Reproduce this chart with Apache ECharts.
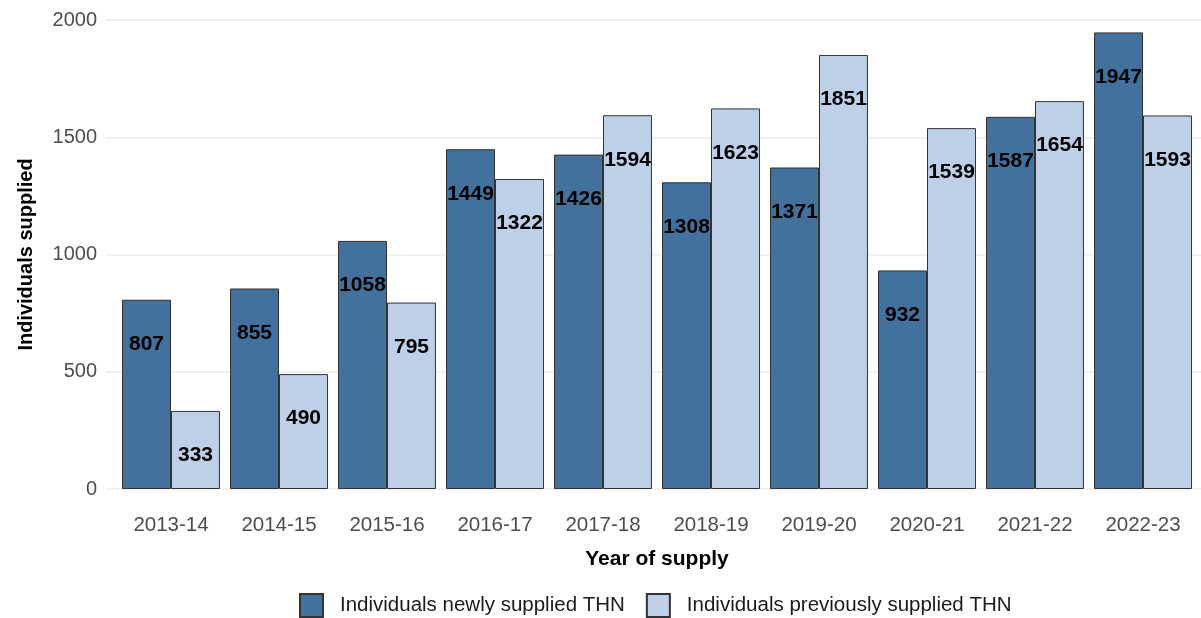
<!DOCTYPE html>
<html>
<head>
    <meta charset="utf-8">
    <title>Individuals supplied THN</title>
    <script src="https://cdn.jsdelivr.net/npm/echarts@6/dist/echarts.min.js"></script>
    <style>
      html, body { margin: 0; padding: 0; background: #fff; }
    </style>
</head>
<body>
    <div id="main" style="width: 1201px;height:618px;"></div>
    <script type="text/javascript">
    var myChart = echarts.init(document.getElementById('main'));
    // Data
    var years = ['2013-14','2014-15','2015-16','2016-17','2017-18','2018-19','2019-20','2020-21','2021-22','2022-23'];
    var newlySupplied = [807, 855, 1058, 1449, 1426, 1308, 1371, 932, 1587, 1947];
    var previouslySupplied = [333, 490, 795, 1322, 1594, 1623, 1851, 1539, 1654, 1593];
    var yTicks = [0, 500, 1000, 1500, 2000];

    var font = '"Liberation Sans", Arial, sans-serif';
    var yMin = yTicks[0], yMax = yTicks[yTicks.length - 1];

    var barLabel = {
      show: true,
      position: 'insideTop',
      distance: 34,
      color: '#000',
      fontSize: 21,
      fontWeight: 'bold',
      fontFamily: font
    };

    var option = {
      backgroundColor: '#fff',
      animation: false,
      textStyle: { fontFamily: font },
      legend: {
        top: 588,
        left: 294,
        itemWidth: 23,
        itemHeight: 23,
        itemGap: 21,
        icon: 'rect',
        textStyle: {
          color: '#1a1a1a',
          fontSize: 20.5,
          fontFamily: font,
          padding: [0, 0, 0, 12]
        },
        data: ['Individuals newly supplied THN', 'Individuals previously supplied THN']
      },
      // grid 0 carries the gridlines (wider, like ggplot's expanded axis); grid 1 the bars
      grid: [
        { left: 106, right: 0, top: 20, bottom: 129 },
        { left: 117, right: 4, top: 20, bottom: 129 }
      ],
      xAxis: [{
        gridIndex: 0,
        type: 'value',
        show: false
      }, {
        gridIndex: 1,
        type: 'category',
        data: years,
        name: 'Year of supply',
        nameLocation: 'middle',
        nameGap: 60,
        nameTextStyle: {
          color: '#000',
          fontSize: 21,
          fontWeight: 'bold',
          fontFamily: font
        },
        axisLine: { show: false },
        axisTick: { show: false },
        axisLabel: {
          color: '#4d4d4d',
          fontSize: 20.5,
          margin: 26,
          fontFamily: font
        }
      }],
      yAxis: [{
        gridIndex: 0,
        type: 'value',
        min: yMin,
        max: yMax,
        interval: 500,
        name: 'Individuals supplied',
        nameLocation: 'middle',
        nameGap: 70,
        nameTextStyle: {
          color: '#000',
          fontSize: 20,
          fontWeight: 'bold',
          fontFamily: font
        },
        axisLine: { show: false },
        axisTick: { show: false },
        axisLabel: {
          color: '#4d4d4d',
          fontSize: 20,
          margin: 9,
          fontFamily: font,
          formatter: function (v) { return String(v); }
        },
        splitLine: {
          lineStyle: { color: '#ebebeb', width: 1.5 }
        }
      }, {
        gridIndex: 1,
        type: 'value',
        min: yMin,
        max: yMax,
        interval: 500,
        show: false,
        splitLine: { show: false }
      }],
      series: [{
        name: 'Individuals newly supplied THN',
        type: 'bar',
        xAxisIndex: 1,
        yAxisIndex: 1,
        data: newlySupplied,
        barGap: 0,
        barCategoryGap: '9.3%',
        itemStyle: {
          color: '#41719c',
          borderColor: '#333',
          borderWidth: 1
        },
        label: barLabel
      }, {
        name: 'Individuals previously supplied THN',
        type: 'bar',
        xAxisIndex: 1,
        yAxisIndex: 1,
        data: previouslySupplied,
        barGap: 0,
        barCategoryGap: '9.3%',
        itemStyle: {
          color: '#bdd0e8',
          borderColor: '#333',
          borderWidth: 1
        },
        label: barLabel
      }]
    };

    myChart.setOption(option);
    </script>
</body>
</html>
